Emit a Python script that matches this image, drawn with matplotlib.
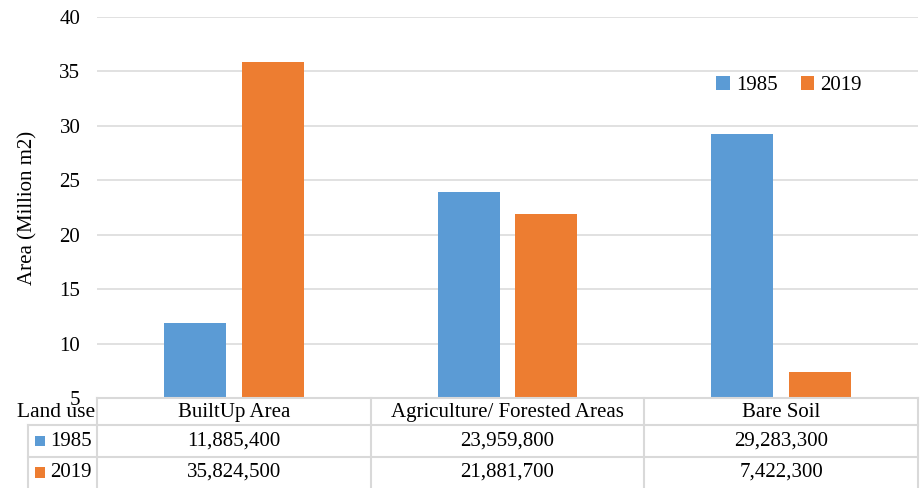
import matplotlib
matplotlib.use("Agg")
import matplotlib.pyplot as plt
from matplotlib.patches import Rectangle
from matplotlib.lines import Line2D
import numpy as np

categories = ["BuiltUp Area", "Agriculture/ Forested Areas", "Bare Soil"]
years = ["1985", "2019"]
values_1985 = [11885400, 23959800, 29283300]
values_2019 = [35824500, 21881700, 7422300]
colors = ["#5B9BD5", "#ED7D31"]
y_ticks = [5, 10, 15, 20, 25, 30, 35, 40]

plt.rcParams['font.family'] = ['Liberation Serif', 'DejaVu Serif']
FS = 15
W, H = 922, 488
fig = plt.figure(figsize=(W / 100, H / 100), dpi=100)

def fx(px):
    return px / W

def fy(py):
    return 1 - py / H

left, right, top, bottom = 97, 918, 17, 398
ax = fig.add_axes([fx(left), fy(bottom), fx(right - left), fy(top) - fy(bottom)])

x = np.arange(len(categories))
bw = 0.226
off = 0.142
series = [values_1985, values_2019]
for i, (vals, c) in enumerate(zip(series, colors)):
    ax.bar(x + (off if i else -off), np.array(vals) / 1e6, width=bw, color=c,
           label=years[i], zorder=3)

ax.set_xlim(-0.5, len(categories) - 0.5)
ax.set_ylim(5, 40)
ax.set_yticks(y_ticks)
ax.tick_params(axis='y', length=0, labelsize=FS, pad=12)
ax.set_xticks([])
ax.grid(axis='y', color='#d9d9d9', linewidth=1.1, zorder=0)
for s in ax.spines.values():
    s.set_visible(False)
ax.set_ylabel("Area (Million m2)", fontsize=FS)
ax.yaxis.set_label_coords(-0.072, 0.5)

ax.legend(loc='center', bbox_to_anchor=(0.843, 0.82), ncol=2, frameon=False,
          fontsize=FS, handlelength=0.65, handleheight=0.65, handletextpad=0.3,
          columnspacing=1.1)

# data table
lc = '#d9d9d9'
lw = 1.5
tx = fig.transFigure
row_y = [398, 425, 457, 488]
col_x = [left + (right - left) * k / len(categories) for k in range(len(categories) + 1)]
fig.add_artist(Line2D([fx(left), fx(right)], [fy(row_y[0])] * 2, color=lc, lw=lw, transform=tx))
for yy in row_y[1:3]:
    fig.add_artist(Line2D([fx(28), fx(right)], [fy(yy)] * 2, color=lc, lw=lw, transform=tx))
for xx in col_x:
    fig.add_artist(Line2D([fx(xx)] * 2, [fy(row_y[0]), fy(row_y[3])], color=lc, lw=lw, transform=tx))
fig.add_artist(Line2D([fx(28)] * 2, [fy(row_y[1]), fy(row_y[3])], color=lc, lw=lw, transform=tx))

fig.text(fx(95), fy((row_y[0] + row_y[1]) / 2 + 1), "Land use", ha='right', va='center', fontsize=FS + 0.5)
for k, cat in enumerate(categories):
    cx = (col_x[k] + col_x[k + 1]) / 2
    fig.text(fx(cx), fy((row_y[0] + row_y[1]) / 2 + 1), cat, ha='center', va='center', fontsize=FS)
for r, (vals, c, yr) in enumerate(zip(series, colors, years)):
    cy = (row_y[r + 1] + row_y[r + 2]) / 2
    fig.add_artist(Rectangle((fx(35), fy(cy + 5)), fx(10), fy(cy - 5) - fy(cy + 5),
                             facecolor=c, edgecolor='none', transform=tx))
    fig.text(fx(50), fy(cy), yr, ha='left', va='center', fontsize=FS)
    for k, v in enumerate(vals):
        cx = (col_x[k] + col_x[k + 1]) / 2
        fig.text(fx(cx), fy(cy), f"{v:,}", ha='center', va='center', fontsize=FS)

fig.savefig("out.png", dpi=100)
